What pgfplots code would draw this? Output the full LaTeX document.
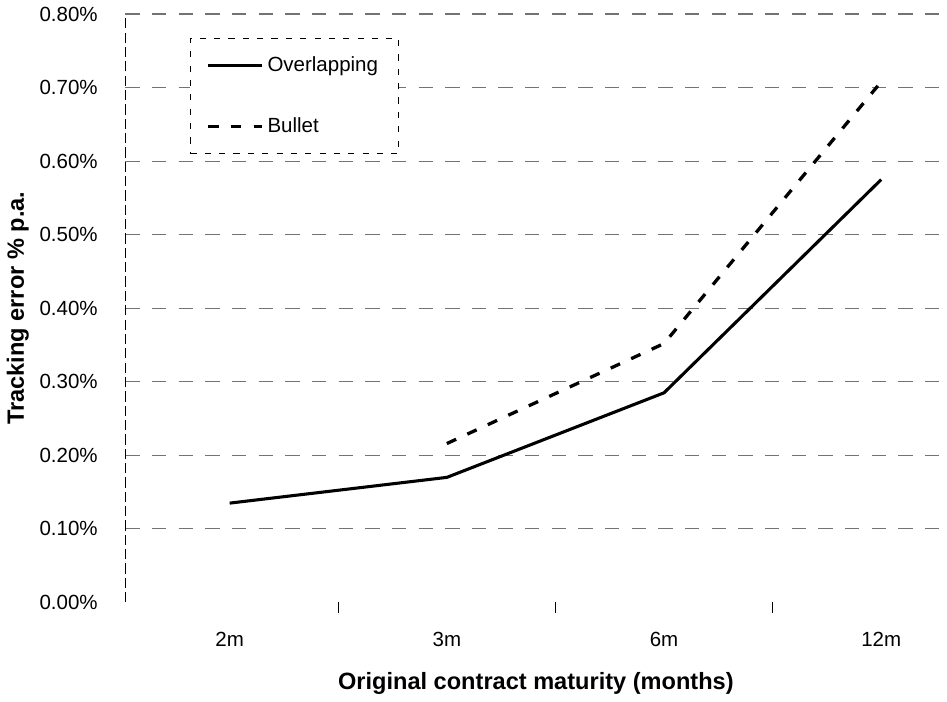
\documentclass[border=0pt]{standalone}
\usepackage{pgfplots}
\pgfplotsset{compat=1.18}
\usepackage{fontspec}
\setmainfont{Liberation Sans}

\begin{document}
\begin{tikzpicture}
\begin{axis}[
    scale only axis,
    width=400.5pt, height=287pt,
    xmin=0.52, xmax=4.3,
    ymin=0, ymax=0.8,
    axis y line*=left,
    axis x line*=bottom,
    x axis line style={draw=none},
    y axis line style={black, line width=0.7pt, dash pattern=on 5pt off 2pt},
    xtick={1,2,3,4},
    xticklabels={2m,3m,6m,12m},
    major x tick style={draw=none},
    extra x ticks={1.5,2.5,3.5},
    extra x tick labels={},
    extra x tick style={major tick length=5pt, tick align=outside,
        major x tick style={draw=black, solid, line width=0.6pt}},
    ytick={0.1,0.2,0.3,0.4,0.5,0.6,0.7,0.8},
    extra y ticks={0},
    extra y tick style={grid=none},
    yticklabel={\pgfmathprintnumber[fixed,fixed zerofill,precision=2,assume math mode=true]{\tick}\%},
    major y tick style={draw=none},
    ymajorgrids,
    y grid style={black!55, line width=0.6pt, dash pattern=on 7pt off 6pt},
    tick label style={font=\fontsize{10}{12}\selectfont},
    yticklabel style={xshift=-10pt},
    xticklabel style={yshift=-11pt},
    xlabel={\textbf{Original contract maturity (months)}},
    ylabel={\textbf{Tracking error \% p.a.}},
    label style={font=\fontsize{11.5}{13}\selectfont},
    x label style={at={(axis description cs:0.5,-0.138)}, anchor=center},
    y label style={at={(axis description cs:-0.131,0.5)}, anchor=center},
    legend style={at={(0.0787,0.96)}, anchor=north west, draw=black,
        dash pattern=on 3pt off 4pt, fill=white,
        font=\fontsize{10}{12}\selectfont,
        inner xsep=8pt, inner ysep=7pt, row sep=17pt},
    legend cell align=left,
    legend image code/.code={\draw[#1] (0pt,0pt) -- (26pt,0pt);},
]
\path (axis description cs:-0.1586,-0.1585) rectangle (axis description cs:1.0237,1.0348);

\addplot[black, solid, line width=1.5pt] coordinates {
    (1,0.135) (2,0.170) (3,0.285) (4,0.575)
};
\addlegendentry{Overlapping}

\addplot[black, line width=1.6pt, dash pattern=on 5pt off 6pt] coordinates {
    (2,0.216) (3,0.352) (4,0.708)
};
\addlegendentry{Bullet}
\end{axis}
\end{tikzpicture}
\end{document}
